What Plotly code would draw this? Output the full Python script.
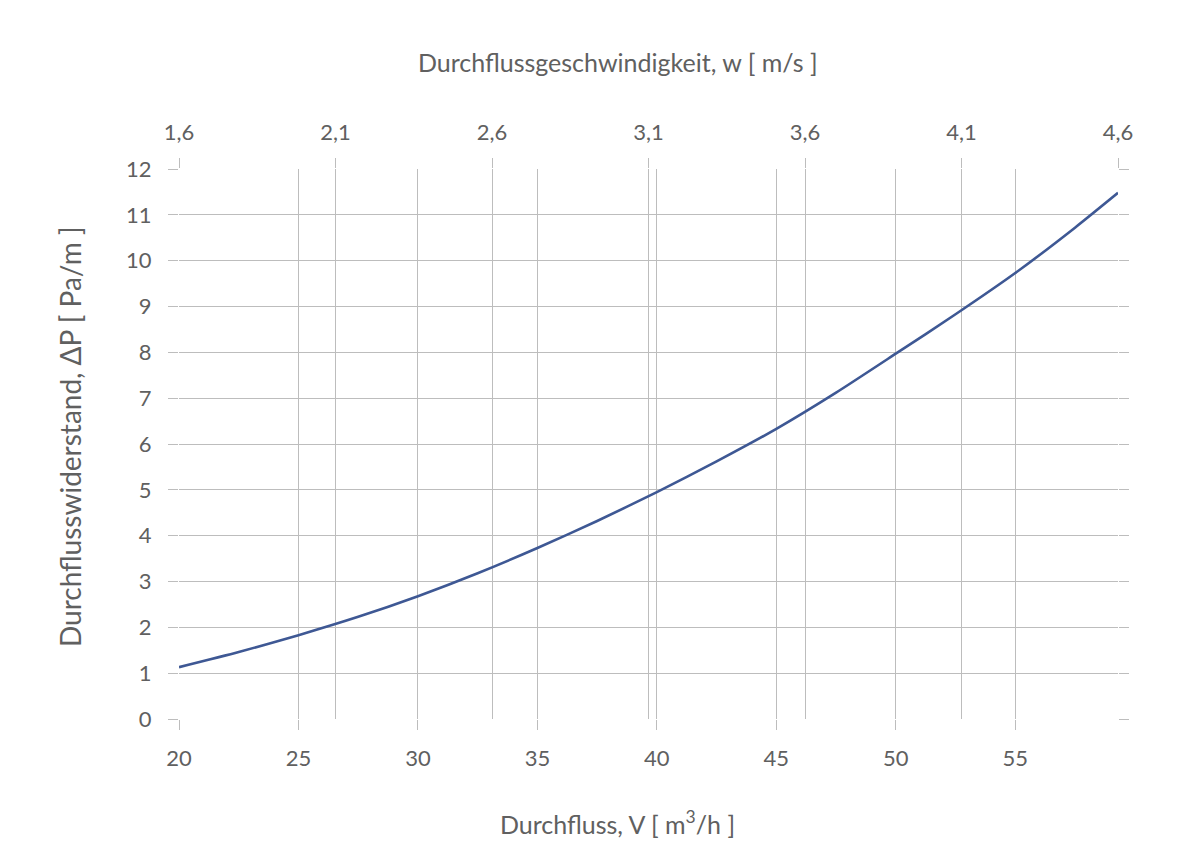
import plotly.graph_objects as go

# Data
flow_v = [20, 22.5, 25, 27.5, 30, 32.5, 35, 37.5, 40, 42.5, 45, 47.5, 50, 52.5, 55, 57.5, 59.3]
pressure_dp = [1.13, 1.46, 1.83, 2.23, 2.68, 3.18, 3.73, 4.32, 4.95, 5.62, 6.33, 7.12, 7.97, 8.83, 9.73, 10.72, 11.48]

bottom_ticks = [20, 25, 30, 35, 40, 45, 50, 55]
bottom_range = [20, 59.3]
top_ticks = [1.6, 2.1, 2.6, 3.1, 3.6, 4.1, 4.6]
top_ticktext = ["1,6", "2,1", "2,6", "3,1", "3,6", "4,1", "4,6"]
y_ticks = list(range(0, 13))

title_top = "Durchflussgeschwindigkeit, w [ m/s ]"
title_bottom = "Durchfluss, V [ m<sup>3</sup>/h ]"
title_left = "Durchflusswiderstand, ΔP [ Pa/m ]"

FONT = "Lato"
TXT = "#606060"
GRID = "#bdbdbd"

fig = go.Figure()
fig.add_trace(go.Scatter(
    x=flow_v, y=pressure_dp, mode="lines",
    line=dict(color="#3e5894", width=2.6, shape="spline", smoothing=0.6),
    showlegend=False, hoverinfo="x+y",
))
# invisible trace to activate the top axis
fig.add_trace(go.Scatter(
    x=[top_ticks[0], top_ticks[-1]], y=[y_ticks[0], y_ticks[0]], xaxis="x2",
    mode="lines", line=dict(width=0, color="rgba(0,0,0,0)"),
    showlegend=False, hoverinfo="skip",
))

axis_common = dict(
    showgrid=True, gridcolor=GRID, gridwidth=1,
    zeroline=False, showline=False,
    ticks="outside", ticklen=10, tickcolor=GRID, tickwidth=1,
    tickfont=dict(family=FONT, size=22, color=TXT),
)

fig.update_layout(
    width=1181, height=845,
    paper_bgcolor="white", plot_bgcolor="white",
    margin=dict(l=171, r=71, t=161, b=134),
    separators=",.",
    font=dict(family=FONT, color=TXT),
    xaxis=dict(range=bottom_range, tickvals=bottom_ticks, ticklabelstandoff=10, **axis_common),
    xaxis2=dict(range=[top_ticks[0], top_ticks[-1]], tickvals=top_ticks, ticktext=top_ticktext,
                overlaying="x", side="top", ticklabelstandoff=9, **axis_common),
    yaxis=dict(range=[0, 12], tickvals=y_ticks, ticklabelstandoff=12, mirror="ticks", **axis_common),
    annotations=[
        dict(text=title_top, xref="paper", yref="paper", x=0.4675, y=1.0, yshift=107,
             showarrow=False, xanchor="center", yanchor="middle",
             font=dict(family=FONT, size=25, color=TXT)),
        dict(text=title_bottom, xref="paper", yref="paper", x=0.4675, y=0.0, yshift=-103,
             showarrow=False, xanchor="center", yanchor="middle",
             font=dict(family=FONT, size=25, color=TXT)),
        dict(text=title_left, xref="paper", yref="paper", x=0.0, y=0.5, xshift=-109, yshift=7,
             textangle=-90, showarrow=False, xanchor="center", yanchor="middle",
             font=dict(family=FONT, size=28, color=TXT)),
    ],
)

fig.write_html("out.html")
